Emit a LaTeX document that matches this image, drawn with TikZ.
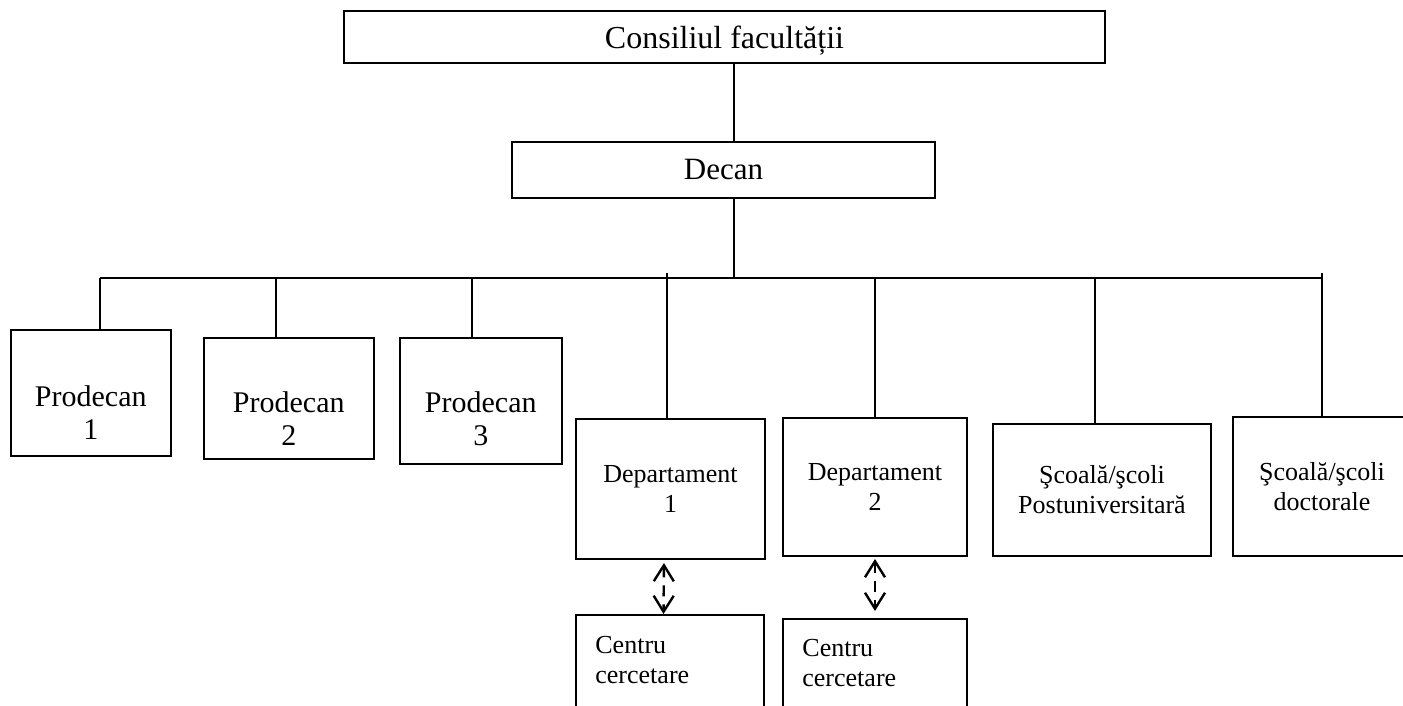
\documentclass[tikz,border=0pt]{standalone}
\usepackage{fontspec}
\setmainfont{Liberation Serif}
\usetikzlibrary{arrows.meta,positioning}

\tikzset{
  box/.style={draw, line width=1pt, inner sep=0pt, align=center,
    font=\fontsize{15}{16.5}\selectfont},
  dbox/.style={box, font=\fontsize{13}{15}\selectfont},
  ptext/.style={inner sep=0pt, align=center, font=\fontsize{15}{16.5}\selectfont},
  ctext/.style={inner sep=0pt, align=left, font=\fontsize{13}{15}\selectfont},
  link/.style={line width=1pt},
  dlink/.style={line width=1.2pt, dash pattern=on 5.5pt off 4pt,
    {Straight Barb[length=8pt,width=10pt,line width=1.2pt]}-{Straight Barb[length=8pt,width=10pt,line width=1.2pt]}}
}

\begin{document}
\begin{tikzpicture}[x=0.5pt,y=-0.5pt]
  \useasboundingbox (0,0) rectangle (1403,706);
  \clip (0,0) rectangle (1403,706);

  % conducere
  \node[box, font=\fontsize{16}{18}\selectfont, text height=15pt, minimum width=380.5pt, minimum height=26pt] (cons) at (724.5,37) {Consiliul facultății};
  \node[box, font=\fontsize{15.5}{17}\selectfont, minimum width=211.5pt, minimum height=28pt] (decan) at (723.5,170) {Decan};

  % prodecani
  \node[box, minimum width=80pt, minimum height=63pt] (p1) at (90.75,393) {};
  \node[box, minimum width=85pt, minimum height=60.5pt] (p2) at (288.8,398.5) {};
  \node[box, minimum width=81pt, minimum height=63pt] (p3) at (480.8,401) {};
  \node[ptext] (p1t) at ([yshift=-10pt]p1.center) {Prodecan\\1};
  \node[ptext] (p2t) at ([yshift=-10pt]p2.center) {Prodecan\\2};
  \node[ptext] (p3t) at ([yshift=-9pt]p3.center) {Prodecan\\3};

  % departamente si scoli
  \node[dbox, minimum width=94.5pt, minimum height=70pt] (d1) at (670.5,489) {Departament\\1};
  \node[dbox, minimum width=92pt, minimum height=69pt] (d2) at (875,487) {Departament\\2};
  \node[dbox, minimum width=109pt, minimum height=66pt] (s1) at (1102,490) {Şcoală/şcoli\\Postuniversitară};
  \node[dbox, minimum width=89pt, minimum height=69.5pt] (s2) at (1322,486.5) {Şcoală/şcoli\\doctorale};

  % centre de cercetare
  \node[box, minimum width=94pt, minimum height=62.5pt] (c1) at (670,677.5) {};
  \node[box, minimum width=92pt, minimum height=62.5pt] (c2) at (875,681.5) {};
  \node[ctext, below right=11pt and 10pt of c1.north west] (c1t) {Centru\\cercetare};
  \node[ctext, below right=10.5pt and 10pt of c2.north west] (c2t) {Centru\\cercetare};

  % bara
  \coordinate (b1) at (100,278);
  \coordinate (b2) at (276,278);
  \coordinate (b3) at (472,278);
  \coordinate (b4) at (667,273);
  \coordinate (bd) at (734,278);
  \coordinate (b5) at (875,278);
  \coordinate (b6) at (1095,278);
  \coordinate (b7) at (1322,273);

  \draw[link] (cons.south -| bd) -- (decan.north -| bd);
  \draw[link] (decan.south -| bd) -- (bd);
  \draw[link] (b1) -- (b1 -| b7);
  \draw[link] (b1) -- (b1 |- p1.north);
  \draw[link] (b2) -- (b2 |- p2.north);
  \draw[link] (b3) -- (b3 |- p3.north);
  \draw[link] (b4) -- (b4 |- d1.north);
  \draw[link] (b5) -- (b5 |- d2.north);
  \draw[link] (b6) -- (b6 |- s1.north);
  \draw[link] (b7) -- (b7 |- s2.north);

  \draw[dlink, shorten <=1.5pt] ([xshift=-3.25pt]d1.south) -- ([xshift=-3.25pt]c1.north);
  \draw[dlink, shorten <=1pt, shorten >=3.5pt] (d2.south) -- (c2.north);
\end{tikzpicture}
\end{document}
